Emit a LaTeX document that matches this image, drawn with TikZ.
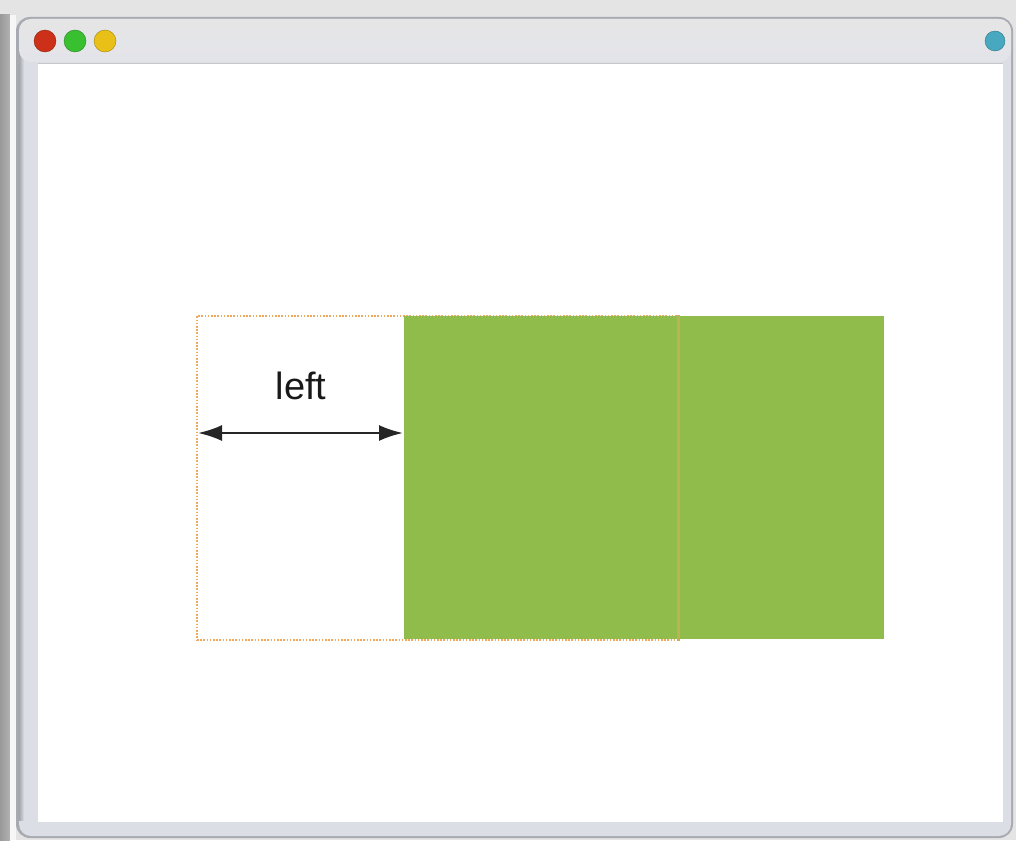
\documentclass[tikz,border=0pt]{standalone}
\usepackage{fontspec}
\setmainfont{Liberation Sans}
\usetikzlibrary{arrows.meta}
\definecolor{bgg}{HTML}{E4E4E4}
\definecolor{framec}{HTML}{DCDEE6}
\definecolor{framedk}{HTML}{A8AAB2}
\definecolor{titlec}{HTML}{E3E4EA}
\definecolor{greenbox}{HTML}{8FBC4B}
\definecolor{dotc}{HTML}{F0A860}
\definecolor{tlred}{HTML}{CC3018}
\definecolor{tlgreen}{HTML}{38C030}
\definecolor{tlyellow}{HTML}{E8C018}
\definecolor{tlblue}{HTML}{48A8C0}
\tikzset{
  light/.style={circle, minimum size=22pt, inner sep=0pt},
  dim/.style={draw=black!85, line width=2.4pt, {Latex[length=24pt,width=16pt]}-{Latex[length=24pt,width=16pt]}},
}
\begin{document}
\begin{tikzpicture}[x=1pt,y=-1pt]
\useasboundingbox (0,0) rectangle (1016,840);
% background
\fill[bgg] (0,0) rectangle (1016,840);
\shade[left color=black!40, right color=black!30] (0,15) rectangle (10,840);
\fill[white!97!black] (10,15) rectangle (16,840);
% window frame
\fill[framedk, rounded corners=14pt] (16,17) rectangle (1013,838);
\fill[framec, rounded corners=12pt] (19,19) rectangle (1011,836);
\shade[left color=black!35, right color=framec] (19,40) rectangle (24,820);
\shade[top color=white!90!black, bottom color=titlec, rounded corners=12pt] (19,19) rectangle (1011,62);
\fill[white] (38,63) rectangle (1003,822);
\draw[black!22, line width=0.8pt] (38,63) -- (1003,63);
% traffic lights
\node[light, fill=tlred, draw=tlred!70!black] (red) at (45,41) {};
\node[light, fill=tlgreen, draw=tlgreen!70!black] (grn) at (75,41) {};
\node[light, fill=tlyellow, draw=tlyellow!70!black] (yel) at (105,41) {};
\node[light, minimum size=20pt, fill=tlblue, draw=tlblue!70!black] (blu) at (995,41) {};
% original (dotted) position box
\node[draw=dotc, dash pattern=on 1.6pt off 1.6pt, line width=1.8pt, minimum width=481pt, minimum height=324pt, inner sep=0pt, anchor=north west] (orig) at (196,315) {};
% moved green box
\node[fill=greenbox, minimum width=480pt, minimum height=323pt, inner sep=0pt, anchor=north west] (moved) at (404,316) {};
\draw[dotc!45!greenbox, line width=3pt] (orig.north east) -- (orig.south east);
% dimension arrow
\coordinate (aL) at (198,433);
\coordinate (aR) at (403,433);
\draw[dim] (aL) -- (aR);
\node[font=\fontsize{38}{40}\selectfont, text=black!90] (lbl) at (301,386) {left};
\end{tikzpicture}
\end{document}
